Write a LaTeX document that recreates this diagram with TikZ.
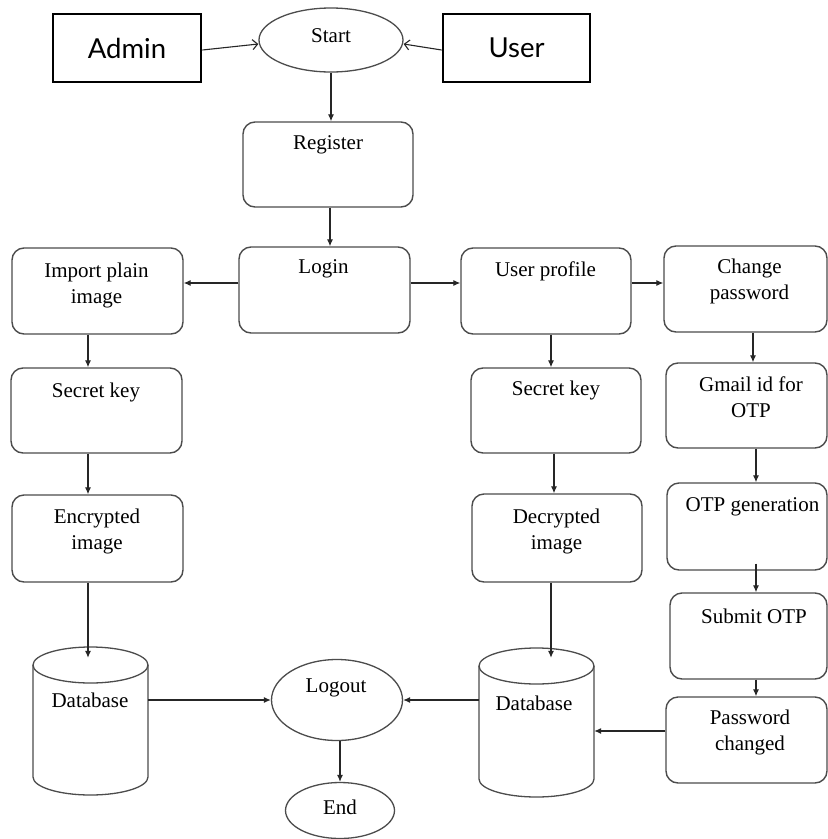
\documentclass[tikz,border=0pt]{standalone}
\usepackage{fontspec}
\setmainfont{Liberation Serif}
\newfontfamily\gillfont{Lato}
\usetikzlibrary{arrows.meta,shapes.geometric}
\begin{document}
\begin{tikzpicture}[x=1pt,y=-1pt,
  rbox/.style={draw=black!70, line width=1.4pt, rounded corners=12pt, inner sep=0pt},
  actor/.style={draw=black, line width=2.8pt, inner sep=0pt, font=\gillfont\fontsize{27.5}{30}\selectfont},
  oval/.style={ellipse, draw=black!70, line width=1.3pt, inner sep=0pt},
  dbline/.style={draw=black!70, line width=1.3pt},
  anchorbox/.style={inner sep=0pt},
  txt/.style={font=\fontsize{21}{26}\selectfont, align=center, inner sep=0pt, text=black},
  arr/.style={-{Latex[length=7pt,width=6pt]}, line width=1.1pt, draw=black!85},
  oarr/.style={-{Straight Barb[length=5pt,width=10pt]}, line width=1.1pt, draw=black!85}]
\fill[white] (0,0) rectangle (828,839);
\useasboundingbox (0,0) rectangle (828,839);

% column x positions for vertical connectors
\coordinate (xl) at (88,0);
\coordinate (xa) at (551,0);
\coordinate (xb) at (554,0);
\coordinate (xc) at (753,0);
\coordinate (xd) at (756,0);

% top row
\node[actor, minimum width=148pt, minimum height=68pt] (admin) at (127,48) {Admin};
\node[actor, minimum width=147pt, minimum height=68pt] (user) at (516.5,48) {User};
\node[oval, minimum width=144pt, minimum height=64pt] (start) at (331,40) {};
\node[txt] (startT) at (331,36) {Start};

% middle column
\node[rbox, minimum width=170pt, minimum height=85pt] (reg) at (328,164.5) {};
\node[txt] (regT) at (328,145) {Register};
\node[rbox, minimum width=171pt, minimum height=86pt] (login) at (324.5,290) {};
\node[txt] (loginT) at (323.5,269) {Login};

% left column
\node[rbox, minimum width=171pt, minimum height=86pt] (imp) at (97.5,291) {};
\node[txt] (impT) at (96.5,285) {Import plain\\image};
\node[rbox, minimum width=171pt, minimum height=85pt] (skl) at (96.5,410.5) {};
\node[txt] (sklT) at (96,392) {Secret key};
\node[rbox, minimum width=171pt, minimum height=87pt] (enc) at (97.5,538.5) {};
\node[txt] (encT) at (97,531.5) {Encrypted\\image};
\node[anchorbox, minimum width=115pt, minimum height=137pt] (dbl) at (90.5,726.5) {};
\draw[dbline] (33,665) -- (33,777) arc[start angle=180,end angle=360,x radius=57.5pt,y radius=18pt] -- (148,665);
\draw[dbline] (90.5,665) ellipse [x radius=57.5pt, y radius=18pt];
\node[txt] (dblT) at (90,700) {Database};

% centre-right column
\node[rbox, minimum width=170pt, minimum height=86pt] (up) at (546,291) {};
\node[txt] (upT) at (545.5,271) {User profile};
\node[rbox, minimum width=170pt, minimum height=85pt] (skr) at (556,410.5) {};
\node[txt] (skrT) at (556,390) {Secret key};
\node[rbox, minimum width=170pt, minimum height=88pt] (dec) at (557,538) {};
\node[txt] (decT) at (556.5,531.5) {Decrypted\\image};
\node[anchorbox, minimum width=115pt, minimum height=139pt] (dbr) at (536.5,727.5) {};
\draw[dbline] (479,666) -- (479,779) arc[start angle=180,end angle=360,x radius=57.5pt,y radius=18pt] -- (594,666);
\draw[dbline] (536.5,666) ellipse [x radius=57.5pt, y radius=18pt];
\node[txt] (dbrT) at (534,703) {Database};

% right column
\node[rbox, minimum width=163pt, minimum height=86pt] (chg) at (745.5,289) {};
\node[txt] (chgT) at (749.5,281.5) {Change\\password};
\node[rbox, minimum width=161pt, minimum height=85pt] (gm) at (746.5,405.5) {};
\node[txt] (gmT) at (751,397.5) {Gmail id for\\OTP};
\node[rbox, minimum width=160pt, minimum height=87pt] (otp) at (747,526.5) {};
\node[txt] (otpT) at (752.5,507) {OTP generation};
\node[rbox, minimum width=157pt, minimum height=86pt] (sub) at (748.5,636) {};
\node[txt] (subT) at (754,616) {Submit OTP};
\node[rbox, minimum width=161pt, minimum height=86pt] (pc) at (746.5,740) {};
\node[txt] (pcT) at (750,732.5) {Password\\changed};

% bottom centre
\node[oval, minimum width=131pt, minimum height=81pt] (lo) at (337,700) {};
\node[txt] (loT) at (336,688) {Logout};
\node[oval, minimum width=109pt, minimum height=56pt] (en) at (340,810.5) {};
\node[txt] (enT) at (340,807) {End};

% connectors
\draw[oarr] ([yshift=-2pt]admin.east) -- ([yshift=-4pt]start.west);
\draw[oarr] ([yshift=-2pt]user.west) -- ([yshift=-4pt]start.east);
\draw[arr] (start.south) -- (start.south |- reg.north);
\draw[arr] ([xshift=2pt]reg.south) -- ([xshift=2pt]reg.south |- login.north);
\draw[arr] ([yshift=7pt]login.west) -- ([yshift=7pt]login.west -| imp.east);
\draw[arr] ([yshift=7pt]login.east) -- ([yshift=7pt]login.east -| up.west);
\draw[arr] ([yshift=8pt]up.east) -- ([yshift=8pt]up.east -| chg.west);

\draw[arr] (imp.south -| xl) -- (skl.north -| xl);
\draw[arr] (skl.south -| xl) -- (enc.north -| xl);
\draw[arr] (enc.south -| xl) -- (dbl.north -| xl);

\draw[arr] (up.south -| xa) -- (skr.north -| xa);
\draw[arr] (skr.south -| xb) -- (dec.north -| xb);
\draw[arr] (dec.south -| xa) -- (dbr.north -| xa);

\draw[arr] (chg.south -| xc) -- (gm.north -| xc);
\draw[arr] (gm.south -| xd) -- (otp.north -| xd);
\draw[arr] ([yshift=7pt]otp.south -| xd) -- (sub.north -| xd);
\draw[arr] (sub.south -| xd) -- (pc.north -| xd);

\draw[arr] (dbl.east |- lo.west) -- (lo.west);
\draw[arr] (dbr.west |- lo.east) -- (lo.east);
\draw[arr] ([yshift=9pt]pc.west) -- ([yshift=9pt]pc.west -| dbr.east);
\draw[arr] (en.north |- lo.south) -- (en.north);
\end{tikzpicture}
\end{document}
